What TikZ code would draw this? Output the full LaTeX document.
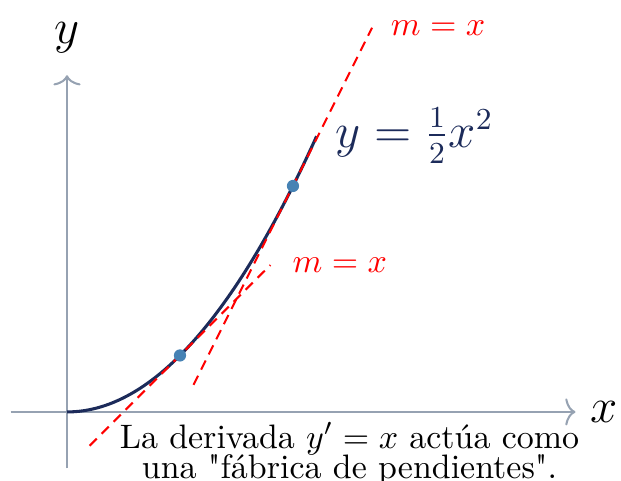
\documentclass[tikz,border=0pt]{standalone}
\usepackage{amsmath}
\usepackage{tikz}
\usetikzlibrary{arrows.meta, positioning}
\definecolor{axisgray}{RGB}{150,162,178}
\definecolor{curvenavy}{RGB}{28,43,90}
\definecolor{pointblue}{RGB}{70,130,180}
\tikzset{
axis/.style={draw=axisgray, line width=0.6pt, -{To[length=3pt,width=8pt]}}, % ejes coordenados
curve/.style={draw=curvenavy, line width=0.9pt}, % la parabola
tangent/.style={draw=red, line width=0.6pt, dash pattern=on 3pt off 2pt}, % rectas tangentes
point/.style={circle, fill=pointblue, inner sep=0pt, minimum size=3.6pt}, % puntos de tangencia
axislabel/.style={font=\fontsize{14}{17}\selectfont},
slopelabel/.style={text=red},
}
\begin{document}
\begin{tikzpicture}[x=1.17cm, y=1.17cm]
        \useasboundingbox (-0.593,-0.611) rectangle (4.903,3.646);

        \coordinate (xmin) at (-0.5,0);
        \coordinate (xmax) at (4.5,0);
        \coordinate (ymin) at (0,-0.5);
        \coordinate (ymax) at (0,2.98);
        \coordinate (cend) at (2.21,{0.5*2.21*2.21});
        \coordinate (p1) at (1,0.5);
        \coordinate (p2) at (2,2);
        \coordinate (t1a) at (0.2,-0.3);
        \coordinate (t1b) at (1.8,1.3);
        \coordinate (t2a) at (1.12,0.24);
        \coordinate (t2b) at (2.7,3.4);

        \draw[axis] (xmin) -- (xmax);
        \draw[axis] (ymin) -- (ymax);
        \node[axislabel, right=1pt of xmax] (xlabel) {$x$};
        \node[axislabel, above=3pt of ymax] (ylabel) {$y$};

        \draw[curve] plot[domain=0:2.21, samples=60] (\x,{0.5*\x*\x});
        \draw[tangent] (t1a) -- (t1b);
        \draw[tangent] (t2a) -- (t2b);
        \node[point] (dot1) at (p1) {};
        \node[point] (dot2) at (p2) {};

        \node[right=2pt of cend, text=curvenavy, font=\fontsize{13.5}{16}\selectfont] (curvelabel) {$y=\frac{1}{2}x^2$};
        \node[slopelabel, right=3pt of t1b] (slope1) {$m=x$};
        \node[slopelabel, right=2pt of t2b] (slope2) {$m=x$};
        \node[align=center, anchor=north, inner sep=0pt] (caption) at (2.5,-0.09)
          {La derivada $y'=x$ actúa como\\[-3pt] una \textquotedbl fábrica de pendientes\textquotedbl.};
      \end{tikzpicture}
\end{document}
